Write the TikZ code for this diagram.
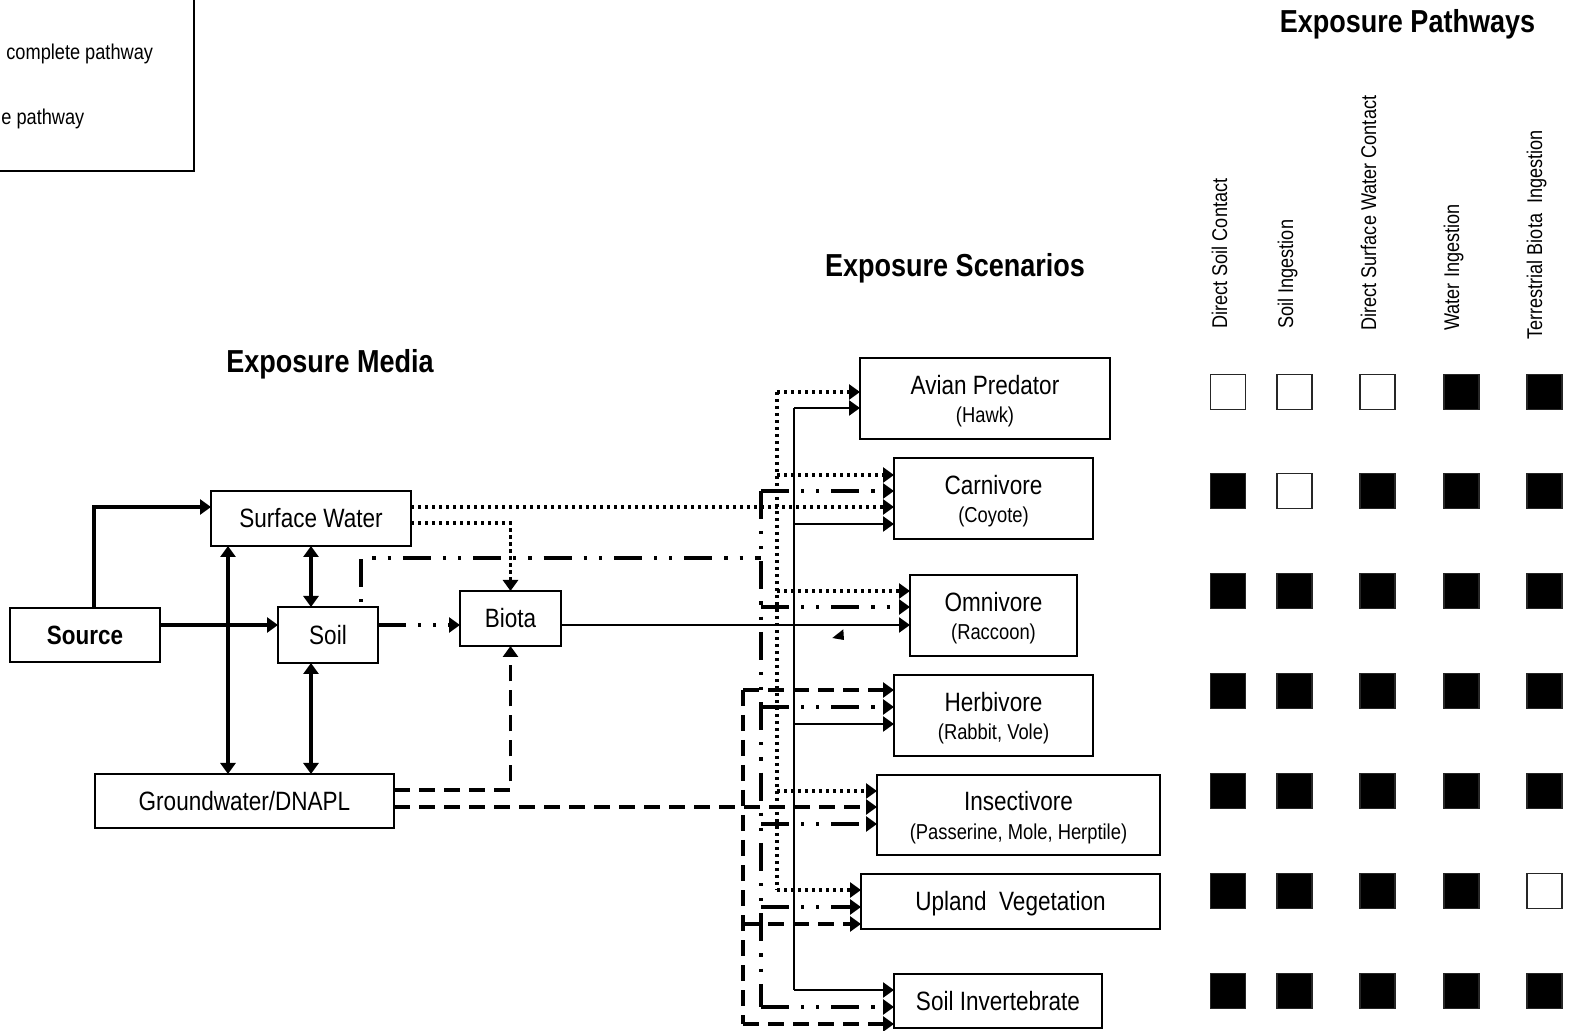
\documentclass[tikz,border=0pt]{standalone}
\usepackage{fontspec}
\setmainfont{Liberation Sans}[FakeStretch=0.85]
\usetikzlibrary{arrows.meta}
\begin{document}
\begin{tikzpicture}[x=0.5pt,y=-0.5pt,
  box/.style={draw, line width=0.75pt, inner sep=0pt, outer sep=0pt},
  sol/.style={line width=1.7pt},
  solthin/.style={line width=1.2pt},
  dotl/.style={line width=1.7pt, dash pattern=on 1.6pt off 1.9pt},
  dashl/.style={line width=1.7pt, dash pattern=on 8pt off 4.5pt},
  dashdotl/.style={line width=1.7pt, dash pattern=on 14pt off 6pt on 1.6pt off 6pt on 1.6pt off 6pt},
  >={Triangle[length=5.5pt,width=7.5pt]},
  txmain/.style={font=\fontsize{13.25pt}{15pt}\selectfont, inner sep=0pt, anchor=base},
  txbold/.style={font=\fontsize{13.2pt}{15pt}\selectfont\bfseries, inner sep=0pt, anchor=base},
  txsub/.style={font=\fontsize{10.8pt}{12pt}\selectfont, inner sep=0pt, anchor=base},
  txtitle/.style={font=\fontsize{15.9pt}{18pt}\selectfont\bfseries, inner sep=0pt, anchor=base},
  txcol/.style={font=\fontsize{10.65pt}{12pt}\selectfont, inner sep=0pt, anchor=base west, rotate=90},
  txleg/.style={font=\fontsize{10.7pt}{12pt}\selectfont, inner sep=0pt, anchor=base west},
  sq/.style={draw=black!85, line width=0.7pt},
]
\useasboundingbox (0,0) rectangle (1570,1031);

% legend fragment
\draw[line width=0.75pt] (0,171) -- (194,171) -- (194,-5);
\node[txleg] (leg1) at (6,60) {complete pathway};
\node[txleg] (leg2) at (1,125) {e pathway};

% titles
\node[txtitle] (tpath) at (1407.5,33) {Exposure Pathways};
\node[txtitle] (tscen) at (955,277) {Exposure Scenarios};
\node[txtitle] (tmedia) at (330,373) {Exposure Media};

% media boxes
\node[box, minimum width=75pt, minimum height=27pt] (source) at (85,635) {};
\node[box, minimum width=100pt, minimum height=27.5pt] (sw) at (311,518.5) {};
\node[box, minimum width=50pt, minimum height=28pt] (soil) at (328,635) {};
\node[box, minimum width=50.5pt, minimum height=27.5pt] (biota) at (510.5,618.5) {};
\node[box, minimum width=149.5pt, minimum height=27pt] (gw) at (244.5,801) {};

\node[txbold] (tsource) at (85,644.5) {Source};
\node[txmain] (tsw) at (311,528) {Surface Water};
\node[txmain] (tsoil) at (328,644.5) {Soil};
\node[txmain] (tbiota) at (510.5,628) {Biota};
\node[txmain] (tgw) at (244.5,810.5) {Groundwater/DNAPL};

% scenario boxes
\node[box, minimum width=125pt, minimum height=40.5pt] (avian) at (985,398.5) {};
\node[box, minimum width=99.5pt, minimum height=40.5pt] (carn) at (993.5,498.5) {};
\node[box, minimum width=83.5pt, minimum height=40.5pt] (omni) at (993.5,615.5) {};
\node[box, minimum width=99.5pt, minimum height=40.5pt] (herb) at (993.5,715.5) {};
\node[box, minimum width=141.5pt, minimum height=40pt] (insect) at (1018.5,815) {};
\node[box, minimum width=149.5pt, minimum height=27.5pt] (upland) at (1010.5,901.5) {};
\node[box, minimum width=104pt, minimum height=27pt] (soilinv) at (998,1001) {};

\node[txmain] (tavian) at (985,394.5) {Avian Predator};
\node[txsub] (savian) at (985,423) {(Hawk)};
\node[txmain] (tcarn) at (993.5,494.5) {Carnivore};
\node[txsub] (scarn) at (993.5,523) {(Coyote)};
\node[txmain] (tomni) at (993.5,611.5) {Omnivore};
\node[txsub] (somni) at (993.5,640) {(Raccoon)};
\node[txmain] (therb) at (993.5,711.5) {Herbivore};
\node[txsub] (sherb) at (993.5,740) {(Rabbit, Vole)};
\node[txmain] (tinsect) at (1018.5,811) {Insectivore};
\node[txsub] (sinsect) at (1018.5,840) {(Passerine, Mole, Herptile)};
\node[txmain] (tupland) at (1010.5,910.5) {Upland\ \ Vegetation};
\node[txmain] (tsoilinv) at (998,1010) {Soil Invertebrate};

% media connectors
\draw[sol,->] (source.north -| 94,0) |- (sw.west |- 0,507);
\draw[sol,->] (source.east |- 0,625) -- (soil.west |- 0,625);
\draw[sol,<->] (sw.south -| 228,0) -- (gw.north -| 228,0);
\draw[sol,<->] (sw.south -| 311,0) -- (soil.north -| 311,0);
\draw[sol,<->] (soil.south -| 311,0) -- (gw.north -| 311,0);
\draw[dashdotl,->] (soil.east |- 0,625) -- (biota.west |- 0,625);
\draw[dotl,->] (sw.east |- 0,523) -| (biota.north);
\draw[dashl,->] (gw.east |- 0,790) -| (biota.south);

% bus coordinates
\coordinate (bsol) at (794,408);
\coordinate (bsolb) at (794,990);
\coordinate (bdot) at (777,392);
\coordinate (bdotb) at (777,890);
\coordinate (bdd) at (761,491);
\coordinate (bddb) at (761,1007);
\coordinate (bdash) at (743,690);
\coordinate (bdashb) at (743,1024);

% feeds
\draw[dotl,->] (sw.east |- 0,507) -- (carn.west |- 0,507);
\draw[dashl,->] (gw.east |- 0,807) -- (insect.west |- 0,807);
\draw[solthin,->] (biota.east |- 0,625) -- (omni.west |- 0,625);
\draw[dashdotl, dash phase=25pt] (soil.north -| 361,0) -- (361,558) -- (bdd |- 0,558);

% solid bus
\draw[solthin] (bsol) -- (bsolb);
\draw[solthin,->] (bsol) -- (avian.west |- bsol);
\draw[solthin,->] (bsol |- 0,524) -- (carn.west |- 0,524);
\draw[solthin,->] (bsol |- 0,724) -- (herb.west |- 0,724);
\draw[solthin,->] (bsolb) -- (soilinv.west |- bsolb);

% dotted bus
\draw[dotl] (bdot) -- (bdotb);
\draw[dotl,->] (bdot) -- (avian.west |- bdot);
\draw[dotl,->] (bdot |- 0,475) -- (carn.west |- 0,475);
\draw[dotl,->] (bdot |- 0,591) -- (omni.west |- 0,591);
\draw[dotl,->] (bdot |- 0,791) -- (insect.west |- 0,791);
\draw[dotl,->] (bdotb) -- (upland.west |- bdotb);

% dash-dot bus
\draw[dashdotl] (bdd) -- (bddb);
\draw[dashdotl,->] (bdd) -- (carn.west |- bdd);
\draw[dashdotl,->] (bdd |- 0,607) -- (omni.west |- 0,607);
\draw[dashdotl,->] (bdd |- 0,707) -- (herb.west |- 0,707);
\draw[dashdotl,->] (bdd |- 0,824) -- (insect.west |- 0,824);
\draw[dashdotl,->] (bdd |- 0,907) -- (upland.west |- 0,907);
\draw[dashdotl,->] (bddb) -- (soilinv.west |- bddb);

% dashed bus
\draw[dashl] (bdash) -- (bdashb);
\draw[dashl,->] (bdash) -- (herb.west |- bdash);
\draw[dashl,->] (bdash |- 0,924) -- (upland.west |- 0,924);
\draw[dashl,->] (bdashb) -- (soilinv.west |- bdashb);

% stray arrowhead
\fill (843.3,629.3) -- (832.3,638) -- (844,640) -- cycle;

% column labels
\node[txcol] (c1) at (1227,329) {Direct Soil Contact};
\node[txcol] (c2) at (1293,329) {Soil Ingestion};
\node[txcol] (c3) at (1376,331) {Direct Surface Water Contact};
\node[txcol] (c4) at (1459,331) {Water Ingestion};
\node[txcol] (c5) at (1542,340) {Terrestrial Biota\ \ Ingestion};

% squares
\foreach \y/\a/\b/\c/\d/\e in {392/white/white/white/black/black,
    491/black/white/black/black/black, 591/black/black/black/black/black,
    691/black/black/black/black/black, 791/black/black/black/black/black,
    891/black/black/black/black/white, 991/black/black/black/black/black}{
  \foreach \x/\f in {1228/\a,1294.5/\b,1377.5/\c,1461.5/\d,1544.5/\e}{
    \draw[sq, fill=\f] ({\x-17.5},{\y-17.5}) rectangle ({\x+17.5},{\y+17.5});
  }
}
\end{tikzpicture}
\end{document}
